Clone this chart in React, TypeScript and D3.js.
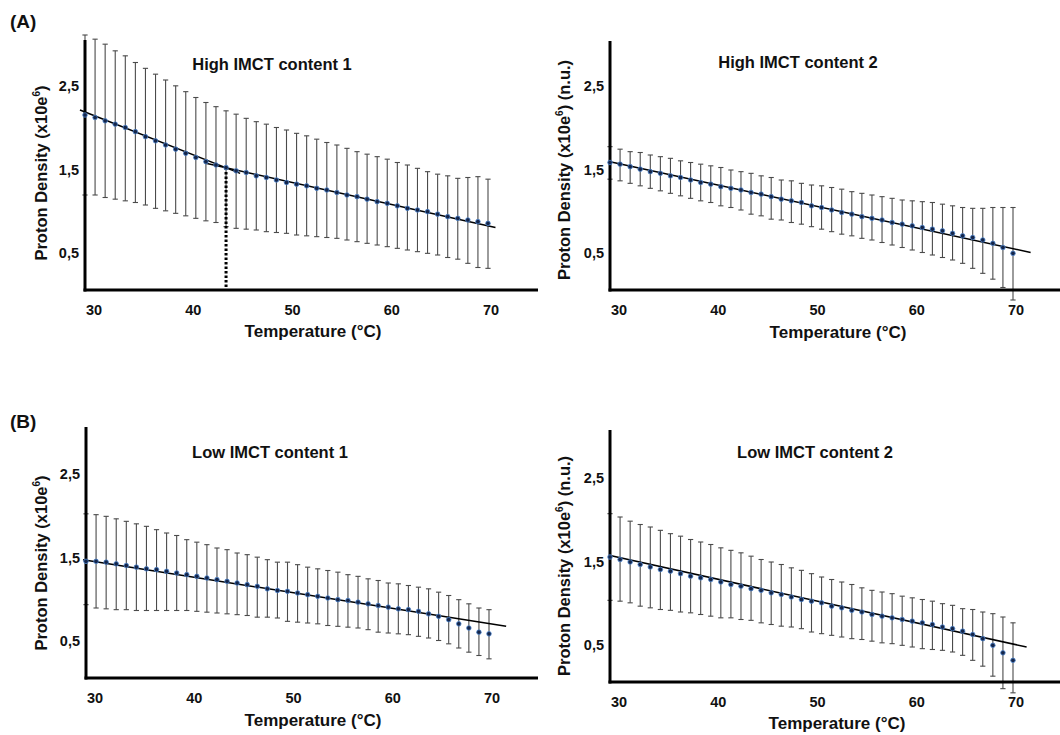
import React from "react";
import * as d3 from "d3";

// ---------- DATA ----------
const temps = [30, 31, 32, 33, 34, 35, 36, 37, 38, 39, 40, 41, 42, 43, 44, 45, 46, 47, 48, 49, 50, 51, 52, 53, 54, 55, 56, 57, 58, 59, 60, 61, 62, 63, 64, 65, 66, 67, 68, 69, 70];

const xTicks = [30, 40, 50, 60, 70];
const yTicks = [0.5, 1.5, 2.5];

// High IMCT content 1
const a1Mean = [2.10, 2.07, 2.03, 1.99, 1.95, 1.90, 1.84, 1.79, 1.74, 1.69, 1.64, 1.59, 1.54, 1.50, 1.47, 1.43, 1.41, 1.37, 1.35, 1.32, 1.29, 1.27, 1.25, 1.22, 1.20, 1.17, 1.14, 1.12, 1.09, 1.06, 1.04, 1.01, 0.98, 0.96, 0.94, 0.91, 0.88, 0.86, 0.84, 0.82, 0.80];
const a1Upper = [3.06, 3.01, 2.95, 2.87, 2.81, 2.73, 2.66, 2.59, 2.52, 2.45, 2.38, 2.31, 2.25, 2.20, 2.15, 2.11, 2.06, 2.02, 1.99, 1.95, 1.92, 1.88, 1.85, 1.81, 1.77, 1.74, 1.70, 1.66, 1.63, 1.60, 1.57, 1.53, 1.50, 1.46, 1.42, 1.39, 1.37, 1.34, 1.35, 1.36, 1.33];
const a1Lower = [1.14, 1.14, 1.11, 1.09, 1.07, 1.05, 1.02, 0.98, 0.95, 0.92, 0.89, 0.86, 0.83, 0.81, 0.76, 0.74, 0.73, 0.72, 0.70, 0.69, 0.68, 0.66, 0.65, 0.64, 0.63, 0.62, 0.60, 0.58, 0.56, 0.54, 0.52, 0.50, 0.48, 0.46, 0.44, 0.42, 0.39, 0.37, 0.32, 0.27, 0.26];
const a1FitLow = [[29.5, 2.16], [45.4, 1.40]];
const a1FitHigh = [[42.0, 1.52], [70.74, 0.75]];
const a1Transition = 44;

// High IMCT content 2
const a2Mean = [1.53, 1.51, 1.48, 1.45, 1.42, 1.40, 1.37, 1.35, 1.32, 1.29, 1.27, 1.24, 1.22, 1.20, 1.17, 1.15, 1.12, 1.09, 1.07, 1.05, 1.01, 0.99, 0.96, 0.93, 0.91, 0.88, 0.86, 0.84, 0.81, 0.79, 0.77, 0.75, 0.73, 0.71, 0.68, 0.65, 0.63, 0.60, 0.56, 0.51, 0.44];
const a2Upper = [1.72, 1.69, 1.66, 1.65, 1.62, 1.60, 1.58, 1.55, 1.53, 1.51, 1.49, 1.47, 1.44, 1.42, 1.40, 1.37, 1.35, 1.32, 1.31, 1.28, 1.26, 1.25, 1.23, 1.21, 1.18, 1.16, 1.14, 1.12, 1.10, 1.08, 1.07, 1.06, 1.05, 1.03, 1.01, 0.99, 0.98, 0.98, 0.99, 0.99, 0.99];
const a2Lower = [1.33, 1.31, 1.28, 1.25, 1.22, 1.19, 1.16, 1.13, 1.10, 1.07, 1.05, 1.01, 0.99, 0.96, 0.91, 0.89, 0.85, 0.84, 0.81, 0.79, 0.76, 0.73, 0.70, 0.67, 0.65, 0.62, 0.60, 0.57, 0.54, 0.51, 0.48, 0.45, 0.42, 0.39, 0.36, 0.32, 0.26, 0.20, 0.13, 0.03, -0.12];
const a2Fit = [[30.0, 1.54], [71.75, 0.45]];

// Low IMCT content 1
const b1Mean = [1.40, 1.40, 1.39, 1.37, 1.35, 1.33, 1.31, 1.30, 1.28, 1.26, 1.24, 1.22, 1.20, 1.18, 1.16, 1.14, 1.12, 1.10, 1.07, 1.05, 1.04, 1.02, 1.00, 0.98, 0.96, 0.94, 0.93, 0.91, 0.89, 0.87, 0.85, 0.83, 0.82, 0.80, 0.77, 0.74, 0.70, 0.65, 0.60, 0.55, 0.53];
const b1Upper = [1.97, 1.96, 1.94, 1.91, 1.88, 1.85, 1.82, 1.78, 1.74, 1.71, 1.66, 1.63, 1.60, 1.56, 1.54, 1.50, 1.48, 1.45, 1.42, 1.39, 1.39, 1.36, 1.33, 1.31, 1.29, 1.27, 1.24, 1.22, 1.19, 1.17, 1.14, 1.13, 1.11, 1.09, 1.07, 1.03, 0.99, 0.94, 0.89, 0.84, 0.82];
const b1Lower = [0.88, 0.84, 0.83, 0.82, 0.82, 0.81, 0.81, 0.81, 0.81, 0.81, 0.81, 0.80, 0.79, 0.78, 0.77, 0.76, 0.75, 0.73, 0.73, 0.72, 0.68, 0.67, 0.66, 0.65, 0.63, 0.62, 0.61, 0.60, 0.58, 0.55, 0.54, 0.53, 0.52, 0.50, 0.48, 0.45, 0.41, 0.36, 0.31, 0.27, 0.23];
const b1Fit = [[29.7, 1.42], [71.7, 0.62]];

// Low IMCT content 2
const b2Mean = [1.50, 1.47, 1.44, 1.41, 1.38, 1.35, 1.33, 1.30, 1.27, 1.25, 1.23, 1.20, 1.17, 1.15, 1.12, 1.10, 1.07, 1.05, 1.02, 0.99, 0.97, 0.95, 0.91, 0.89, 0.86, 0.84, 0.81, 0.79, 0.77, 0.75, 0.73, 0.71, 0.69, 0.66, 0.64, 0.61, 0.57, 0.52, 0.44, 0.35, 0.26];
const b2Upper = [2.02, 1.98, 1.93, 1.89, 1.86, 1.82, 1.78, 1.75, 1.71, 1.68, 1.65, 1.61, 1.58, 1.55, 1.51, 1.47, 1.44, 1.41, 1.37, 1.34, 1.30, 1.26, 1.23, 1.20, 1.17, 1.13, 1.10, 1.08, 1.06, 1.03, 1.01, 0.99, 0.97, 0.94, 0.92, 0.88, 0.87, 0.84, 0.82, 0.78, 0.71];
const b2Lower = [0.98, 0.97, 0.95, 0.91, 0.89, 0.87, 0.86, 0.84, 0.83, 0.81, 0.79, 0.77, 0.77, 0.75, 0.74, 0.71, 0.69, 0.67, 0.66, 0.64, 0.60, 0.58, 0.56, 0.54, 0.52, 0.51, 0.49, 0.47, 0.46, 0.44, 0.42, 0.40, 0.39, 0.38, 0.36, 0.32, 0.26, 0.19, 0.07, -0.08, -0.13];
const b2Fit = [[29.9, 1.52], [71.35, 0.42]];

const titles = ["High IMCT content 1", "High IMCT content 2", "Low IMCT content 1", "Low IMCT content 2"];
const yLabelSuffix = ["", " (n.u.)", "", " (n.u.)"];

// ---------- LAYOUT ----------
const FONT = "'Liberation Sans', Arial, Helvetica, sans-serif";
const layouts = [
  { ax: 85, bottom: 290, top: 40, axisEnd: 538, titleX: 272, titleY: 70, yLabX: 47, yLabY: 173, xLabX: 313, xLabY: 337 },
  { ax: 610, bottom: 290, top: 41, axisEnd: 1060, titleX: 798, titleY: 68, yLabX: 570, yLabY: 170, xLabX: 838, xLabY: 338 },
  { ax: 86, bottom: 678, top: 427, axisEnd: 538, titleX: 270, titleY: 458, yLabX: 47, yLabY: 563, xLabX: 313, xLabY: 726 },
  { ax: 610, bottom: 682, top: 430, axisEnd: 1060, titleX: 815, titleY: 458, yLabX: 570, yLabY: 566, xLabX: 837, xLabY: 729 },
];

const panels = [
  { mean: a1Mean, upper: a1Upper, lower: a1Lower, fits: [a1FitLow, a1FitHigh], transition: a1Transition },
  { mean: a2Mean, upper: a2Upper, lower: a2Lower, fits: [a2Fit], transition: null },
  { mean: b1Mean, upper: b1Upper, lower: b1Lower, fits: [b1Fit], transition: null },
  { mean: b2Mean, upper: b2Upper, lower: b2Lower, fits: [b2Fit], transition: null },
];

const commaFmt = d3.formatLocale({ decimal: ",", thousands: ".", grouping: [3], currency: ["", ""] }).format(".1f");

function Panel({ idx }: { idx: number }) {
  const L = layouts[idx];
  const P = panels[idx];
  const x = d3.scaleLinear().domain([30, 70]).range([L.ax, L.ax + 403]);
  const xLab = d3.scaleLinear().domain([30, 70]).range([L.ax + 9, L.ax + 406]);
  const y = d3.scaleLinear().domain([0, 3]).range([L.bottom, L.bottom - 250]);
  const line = d3.line<number[]>().x((d) => x(d[0])).y((d) => y(d[1]));
  const cap = 2.6;
  return (
    <g>
      {/* error bars */}
      <g stroke="#4a4a4a" strokeWidth={1.1} fill="none">
        {temps.map((t, i) => (
          <g key={i}>
            <line x1={x(t)} x2={x(t)} y1={y(P.upper[i])} y2={y(P.lower[i])} />
            <line x1={x(t) - cap} x2={x(t) + cap} y1={y(P.upper[i])} y2={y(P.upper[i])} />
            <line x1={x(t) - cap} x2={x(t) + cap} y1={y(P.lower[i])} y2={y(P.lower[i])} />
          </g>
        ))}
      </g>
      {/* axes */}
      <line x1={L.ax} x2={L.ax} y1={L.top} y2={L.bottom + 1.5} stroke="#000" strokeWidth={3} />
      <line x1={L.ax - 1.5} x2={L.axisEnd} y1={L.bottom} y2={L.bottom} stroke="#000" strokeWidth={3} />
      {/* transition marker */}
      {P.transition !== null && (
        <line
          x1={x(P.transition)}
          x2={x(P.transition)}
          y1={y(P.mean[temps.indexOf(P.transition)])}
          y2={L.bottom}
          stroke="#000"
          strokeWidth={3}
          strokeDasharray="2.5,2"
        />
      )}
      {/* fit lines */}
      {P.fits.map((f, k) => (
        <path key={k} d={line(f as number[][]) || ""} stroke="#000" strokeWidth={1.5} fill="none" />
      ))}
      {/* mean points */}
      {temps.map((t, i) => (
        <circle key={i} cx={x(t)} cy={y(P.mean[i])} r={2.3} fill="#15264a" stroke="#4f86cf" strokeWidth={0.8} />
      ))}
      {/* tick labels */}
      <g fontFamily={FONT} fontWeight="bold" fontSize={14.5} fill="#111">
        {yTicks.map((v) => (
          <text key={v} x={L.ax - 6} y={y(v) + 9.5} textAnchor="end">
            {commaFmt(v)}
          </text>
        ))}
        {xTicks.map((v) => (
          <text key={v} x={xLab(v)} y={L.bottom + 25} textAnchor="middle">
            {v}
          </text>
        ))}
      </g>
      {/* title */}
      <text x={L.titleX} y={L.titleY} textAnchor="middle" fontFamily={FONT} fontWeight="bold" fontSize={16.5} fill="#111">
        {titles[idx]}
      </text>
      {/* axis labels */}
      <text x={L.xLabX} y={L.xLabY} textAnchor="middle" fontFamily={FONT} fontWeight="bold" fontSize={17} fill="#111">
        Temperature (°C)
      </text>
      <text
        transform={`translate(${L.yLabX},${L.yLabY}) rotate(-90)`}
        textAnchor="middle"
        fontFamily={FONT}
        fontWeight="bold"
        fontSize={16.5}
        fill="#111"
      >
        Proton Density (x10e
        <tspan fontSize={10} dy={-7}>6</tspan>
        <tspan dy={7}>){yLabelSuffix[idx]}</tspan>
      </text>
    </g>
  );
}

export default function App() {
  return (
    <svg width={1060} height={735} style={{ position: "absolute", left: 0, top: 0, background: "#fff" }}>
      <rect width={1060} height={735} fill="#fff" />
      <text x={10} y={28} fontFamily={FONT} fontWeight="bold" fontSize={19} fill="#111">(A)</text>
      <text x={10} y={428} fontFamily={FONT} fontWeight="bold" fontSize={19} fill="#111">(B)</text>
      {[0, 1, 2, 3].map((i) => (
        <Panel key={i} idx={i} />
      ))}
    </svg>
  );
}
